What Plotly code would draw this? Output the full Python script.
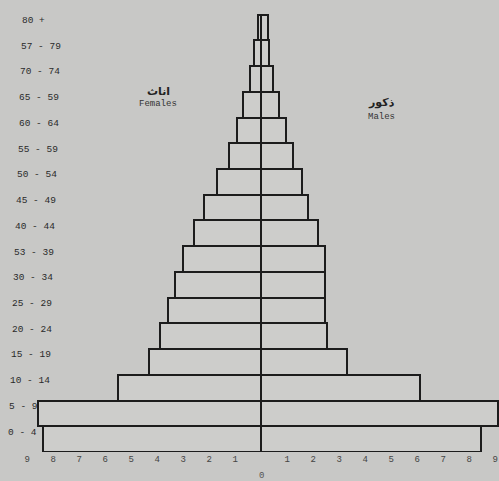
import plotly.graph_objects as go

# age groups, bottom to top
age_groups = ["0-4", "5-9", "10-14", "15-19", "20-24", "25-29", "30-34", "35-39",
              "40-44", "45-49", "50-54", "55-59", "60-64", "65-69", "70-74", "75-79", "80+"]
# labels as typed on the original chart
age_labels = ["0 - 4", "5 - 9", "10 - 14", "15 - 19", "20 - 24", "25 - 29", "30 - 34", "53 - 39",
              "40 - 44", "45 - 49", "50 - 54", "55 - 59", "60 - 64", "65 - 59", "70 - 74", "57 - 79", "80 +"]

# percent of population
females = [8.4, 8.6, 5.5, 4.3, 3.9, 3.6, 3.3, 3.0, 2.6, 2.2, 1.7, 1.25, 0.92, 0.69, 0.42, 0.27, 0.14]
males = [8.45, 9.1, 6.1, 3.3, 2.55, 2.45, 2.45, 2.45, 2.2, 1.8, 1.58, 1.23, 0.95, 0.69, 0.46, 0.3, 0.26]

x_ticks = [-9, -8, -7, -6, -5, -4, -3, -2, -1, 1, 2, 3, 4, 5, 6, 7, 8, 9]

BG = "#c8c8c6"
FILL = "#cdcdcb"
INK = "#1c1c1c"

fig = go.Figure()

fig.add_trace(go.Bar(
    y=age_groups,
    x=[-v for v in females],
    orientation="h",
    marker=dict(color=FILL, line=dict(color=INK, width=2)),
    name="Females"
))

fig.add_trace(go.Bar(
    y=age_groups,
    x=males,
    orientation="h",
    marker=dict(color=FILL, line=dict(color=INK, width=2)),
    name="Males"
))

fig.update_layout(
    width=499,
    height=481,
    barmode="relative",
    bargap=0,
    showlegend=False,
    paper_bgcolor=BG,
    plot_bgcolor=BG,
    font=dict(family="Liberation Mono, DejaVu Sans Mono, monospace", size=10, color="#333333"),
    margin=dict(l=0, r=0, t=13, b=29),
    xaxis=dict(
        range=[-10.05, 9.15],
        tickvals=x_ticks,
        ticktext=[str(abs(v)) for v in x_ticks],
        ticklabeloverflow="allow",
        showgrid=False,
        zeroline=False,
        showline=False,
        ticks="",
        tickfont=dict(size=9, color="#444444")
    ),
    yaxis=dict(
        categoryorder="array",
        categoryarray=age_groups,
        showticklabels=False,
        showgrid=False,
        zeroline=False,
        showline=False,
        ticks=""
    )
)

# age labels sit inside the plot on the left, drifting right towards the top (scan skew)
n = len(age_groups)
for i, (grp, lab) in enumerate(zip(age_groups, age_labels)):
    fig.add_annotation(x=(6 + 14 * i / (n - 1)) / 499, y=grp, xref="paper", yref="y",
                       text=lab, xanchor="left", yanchor="middle", yshift=7,
                       showarrow=False, font=dict(size=9.5, color="#2a2a2a"))

fig.add_annotation(x=0, y=-0.055, xref="x", yref="paper", text="0",
                   xanchor="center", yanchor="middle",
                   showarrow=False, font=dict(size=9, color="#555555"))

fig.add_annotation(x=0.317, y=0.822, xref="paper", yref="paper", text="<b>اناث</b>",
                   xanchor="center", yanchor="middle",
                   showarrow=False, font=dict(family="DejaVu Sans", size=11, color="#222222"))
fig.add_annotation(x=0.317, y=0.792, xref="paper", yref="paper", text="Females",
                   xanchor="center", yanchor="middle",
                   showarrow=False, font=dict(size=9, color="#333333"))
fig.add_annotation(x=0.764, y=0.795, xref="paper", yref="paper", text="<b>ذكور</b>",
                   xanchor="center", yanchor="middle",
                   showarrow=False, font=dict(family="DejaVu Sans", size=11, color="#222222"))
fig.add_annotation(x=0.764, y=0.764, xref="paper", yref="paper", text="Males",
                   xanchor="center", yanchor="middle",
                   showarrow=False, font=dict(size=9, color="#333333"))

fig.write_html("out.html", config={"displayModeBar": False},
               post_script="document.body.style.margin='0';")
